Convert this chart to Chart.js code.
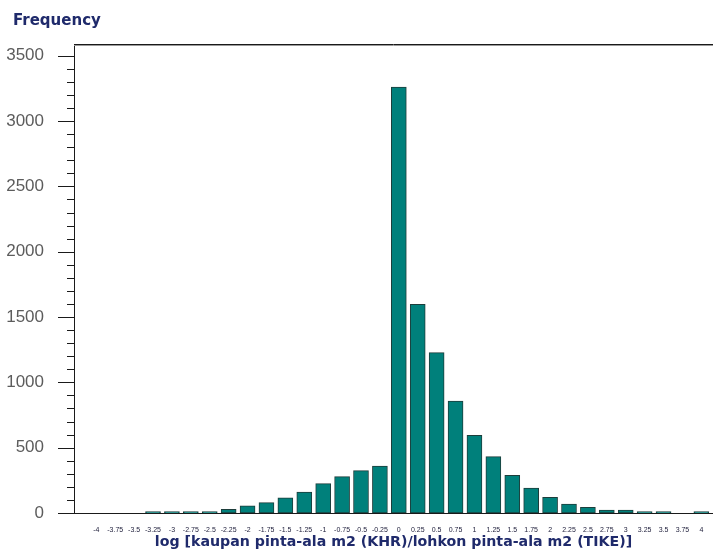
<!DOCTYPE html>
<html>
<head>
<meta charset="utf-8">
<title>Frequency histogram</title>
<script src="https://cdn.jsdelivr.net/npm/chart.js@4.4.1/dist/chart.umd.min.js"></script>
<style>
  html, body { margin: 0; padding: 0; background: #ffffff; overflow: hidden; }
  #wrap { width: 713px; height: 556px; position: relative; }
</style>
</head>
<body>
<div id="wrap"><canvas id="chart" width="713" height="556"></canvas></div>
<script>
// Bin centres of log(area ratio), step 0.25
const categories = [-4, -3.75, -3.5, -3.25, -3, -2.75, -2.5, -2.25, -2, -1.75, -1.5, -1.25, -1,
  -0.75, -0.5, -0.25, 0, 0.25, 0.5, 0.75, 1, 1.25, 1.5, 1.75, 2, 2.25, 2.5, 2.75, 3, 3.25, 3.5, 3.75, 4];

// Tick labels shown under each bin
const tickLabels = ['-4', '-3.75', '-3.5', '-3.25', '-3', '-2.75', '-2.5', '-2.25', '-2', '-1.75',
  '-1.5', '-1.25', '-1', '-0.75', '-0.5', '-0.25', '0', '0.25', '0.5', '0.75', '1', '1.25', '1.5',
  '1.75', '2', '2.25', '2.5', '2.75', '3', '3.25', '3.5', '3.75', '4'];

// Counts per bin
const frequency = [0, 0, 0, 10, 10, 10, 10, 28, 54, 79, 117, 161, 225, 278, 324, 360,
  3260, 1598, 1227, 857, 595, 431, 289, 191, 120, 69, 43, 23, 23, 10, 10, 0, 10];

// Labelled values on the frequency axis
const yTickValues = [0, 500, 1000, 1500, 2000, 2500, 3000, 3500];
const yMinorStep = 100;

const yAxisTitle = 'Frequency';

const histData = categories.map((c, i) => ({ x: c, y: frequency[i] }));

// Outer tick marks (major and minor), the top frame line and the axis caption
const axisDecor = {
  id: 'axisDecor',
  afterDraw(chart) {
    const { ctx, chartArea, scales } = chart;
    const y = scales.y;
    const top = yTickValues[yTickValues.length - 1];
    ctx.save();
    ctx.strokeStyle = '#1a1a1a';
    ctx.lineWidth = 1;
    for (let v = 0; v <= top; v += yMinorStep) {
      const py = Math.round(y.getPixelForValue(v)) + 0.5;
      const len = yTickValues.includes(v) ? 16 : 7;
      ctx.beginPath();
      ctx.moveTo(chartArea.left - len, py);
      ctx.lineTo(chartArea.left, py);
      ctx.stroke();
    }
    ctx.beginPath();
    ctx.moveTo(chartArea.left, chartArea.top + 0.5);
    ctx.lineTo(chartArea.right, chartArea.top + 0.5);
    ctx.stroke();
    ctx.strokeStyle = '#9a9a9a';
    ctx.beginPath();
    ctx.moveTo(chartArea.left, chartArea.top + 1.5);
    ctx.lineTo(chartArea.right, chartArea.top + 1.5);
    ctx.stroke();

    ctx.fillStyle = '#1f2a6b';
    ctx.font = 'bold 15px "DejaVu Sans"';
    ctx.textAlign = 'left';
    ctx.textBaseline = 'alphabetic';
    ctx.fillText(yAxisTitle, 13, 25);
    ctx.restore();
  }
};

new Chart(document.getElementById('chart'), {
  type: 'bar',
  data: {
    datasets: [{
      label: yAxisTitle,
      data: histData,
      backgroundColor: '#00807b',
      borderColor: '#1d3d3b',
      borderWidth: 1,
      borderSkipped: false,
      barThickness: 15
    }]
  },
  options: {
    responsive: false,
    animation: false,
    devicePixelRatio: 1,
    layout: { padding: { left: 0, right: 0, top: 44, bottom: 0 } },
    plugins: {
      legend: { display: false },
      tooltip: { enabled: false },
      title: { display: false }
    },
    scales: {
      x: {
        type: 'linear',
        min: -4.1667,
        max: 4.026,
        grid: { display: false },
        border: { display: true, color: '#1a1a1a', width: 1 },
        afterBuildTicks: (s) => { s.ticks = categories.map(v => ({ value: v })); },
        afterFit: (s) => { s.height = 43; s.paddingLeft = 0; s.paddingRight = 0; },
        ticks: {
          autoSkip: false,
          maxRotation: 0,
          minRotation: 0,
          padding: 5,
          color: '#23233f',
          font: { family: "'Liberation Sans Narrow', 'Liberation Sans', sans-serif", size: 7 },
          callback: (value, index) => tickLabels[index]
        },
        title: {
          display: true,
          text: 'log [kaupan pinta-ala m2 (KHR)/lohkon pinta-ala m2 (TIKE)]',
          color: '#1f2a6b',
          font: { family: 'DejaVu Sans', weight: 'bold', size: 14.2, lineHeight: 1.2 },
          padding: { top: 0, bottom: 5 }
        }
      },
      y: {
        min: 0,
        max: 3590,
        grid: { display: false },
        border: { display: true, color: '#1a1a1a', width: 1 },
        afterBuildTicks: (s) => { s.ticks = yTickValues.map(v => ({ value: v })); },
        afterFit: (s) => { s.width = 74; s.paddingTop = 0; s.paddingBottom = 0; },
        ticks: {
          padding: 22,
          color: '#5c5c5c',
          font: { family: "'Liberation Sans', Arial, sans-serif", size: 17 },
          callback: (value) => String(value)
        }
      }
    }
  },
  plugins: [axisDecor]
});
</script>
</body>
</html>
